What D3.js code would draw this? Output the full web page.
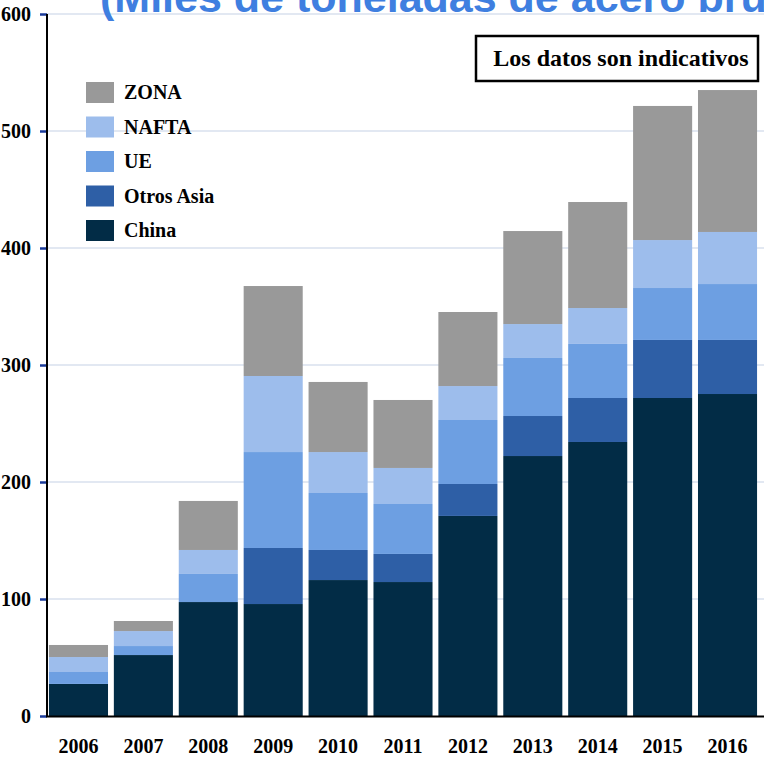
<!DOCTYPE html>
<html><head><meta charset="utf-8">
<script src="https://cdn.jsdelivr.net/npm/d3@7"></script>
<style>
html,body{margin:0;padding:0;background:#fff;overflow:hidden}
svg{display:block}
</style></head>
<body>
<script>
const years = ["2006","2007","2008","2009","2010","2011","2012","2013","2014","2015","2016"];
const china     = [27.4, 52.1, 97.4, 95.7, 116.2, 114.5, 171.0, 222.2, 234.2, 271.8, 275.2];
const otrosAsia = [0, 0, 0, 47.9, 25.7, 24.0, 27.3, 34.2, 37.6, 49.6, 46.2];
const ue        = [10.2, 7.7, 24.0, 82.0, 48.7, 42.7, 54.7, 49.6, 46.2, 44.4, 47.8];
const nafta     = [12.8, 12.8, 20.5, 65.0, 35.0, 30.8, 29.0, 29.0, 30.7, 41.0, 44.5];
const zona      = [10.3, 8.6, 41.9, 76.9, 59.9, 58.1, 63.3, 79.5, 90.6, 114.6, 121.3];
const seriesNames = ["China","Otros Asia","UE","NAFTA","ZONA"];
const yTicks = [0,100,200,300,400,500,600];
const titleText = "(Miles de toneladas de acero bruto)";
const noteText = "Los datos son indicativos";

const colors = {"China":"#022c46","Otros Asia":"#2e5fa6","UE":"#6d9fe2","NAFTA":"#9dbdec","ZONA":"#999999"};
const table = years.map((y,i)=>({year:y,"China":china[i],"Otros Asia":otrosAsia[i],"UE":ue[i],"NAFTA":nafta[i],"ZONA":zona[i]}));

const W=764,H=757;
const svg=d3.select("body").append("svg").attr("width",W).attr("height",H);
const serif="'Liberation Serif','Times New Roman',serif";

const x=d3.scaleBand().domain(years).range([47,759]).paddingInner(0.09).paddingOuter(0.03);
const y=d3.scaleLinear().domain([0,600]).range([716,14]);

// gridlines
svg.append("g").selectAll("line").data(yTicks.filter(d=>d>0)).join("line")
  .attr("x1",47).attr("x2",W).attr("y1",d=>y(d)).attr("y2",d=>y(d))
  .attr("stroke","#d9e0ee").attr("stroke-width",1.3);

// title (clipped at top, as in the reference)
svg.append("text").attr("x",100).attr("y",12)
  .attr("font-family","'Liberation Sans',Arial,sans-serif").attr("font-weight","bold")
  .attr("font-size",43).attr("fill","#3f7fe0").text(titleText);

// bars
const stack=d3.stack().keys(seriesNames)(table);
svg.append("g").selectAll("g").data(stack).join("g").attr("fill",d=>colors[d.key])
  .selectAll("rect").data(d=>d).join("rect")
  .attr("x",d=>x(d.data.year)).attr("width",x.bandwidth())
  .attr("y",d=>y(d[1])).attr("height",d=>Math.max(0,y(d[0])-y(d[1])));

// y axis
const yAxis=d3.axisLeft(y).tickValues(yTicks).tickSize(7).tickPadding(9);
const gy=svg.append("g").attr("transform","translate(47,0)").call(yAxis);
gy.select(".domain").remove();
gy.selectAll(".tick line").attr("stroke","#1a3a9a").attr("stroke-width",2.5);
gy.selectAll(".tick text").attr("font-family",serif).attr("font-weight","bold").attr("font-size",20).attr("fill","#000");
svg.append("line").attr("x1",47).attr("x2",47).attr("y1",14).attr("y2",717).attr("stroke","#000").attr("stroke-width",2);

// x axis
const xAxis=d3.axisBottom(x).tickSize(0).tickPadding(23);
const gx=svg.append("g").attr("transform","translate(0,716)").call(xAxis);
gx.select(".domain").remove();
gx.selectAll(".tick text").attr("font-family",serif).attr("font-weight","bold").attr("font-size",20).attr("fill","#000");
svg.append("line").attr("x1",46).attr("x2",W).attr("y1",716.5).attr("y2",716.5).attr("stroke","#000").attr("stroke-width",2);

// legend
const legendOrder=["ZONA","NAFTA","UE","Otros Asia","China"];
const lg=svg.append("g").selectAll("g").data(legendOrder).join("g")
  .attr("transform",(d,i)=>`translate(86,${82+i*34.5})`);
lg.append("rect").attr("width",28).attr("height",21).attr("fill",d=>colors[d]);
lg.append("text").attr("x",38).attr("y",17).attr("font-family",serif).attr("font-weight","bold")
  .attr("font-size",20).attr("fill","#000").text(d=>d);

// note box
svg.append("rect").attr("x",476).attr("y",36).attr("width",282).attr("height",45)
  .attr("fill","#fff").attr("stroke","#000").attr("stroke-width",2.5);
svg.append("text").attr("x",621).attr("y",66).attr("text-anchor","middle")
  .attr("font-family",serif).attr("font-weight","bold").attr("font-size",24).attr("fill","#000").text(noteText);
</script>
</body></html>
